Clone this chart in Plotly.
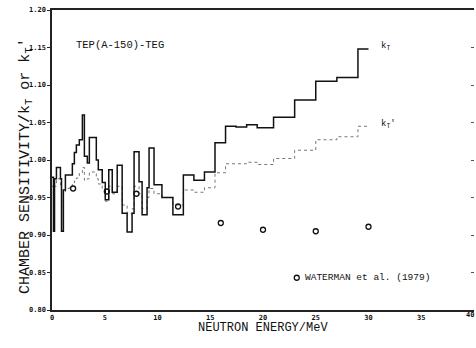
import plotly.graph_objects as go

# ---- data ----
edges = [0.0, 0.14, 0.24, 0.42, 0.80, 0.90, 1.08, 1.27, 1.65, 1.93, 2.12, 2.31, 2.59, 2.88,
         3.07, 3.35, 3.54, 4.20, 4.39, 4.76, 5.05, 5.38, 5.71, 6.18, 6.65, 7.12, 7.59, 7.78,
         8.25, 8.54, 9.01, 9.20, 9.67, 10.42, 11.46, 12.45, 13.45, 14.45, 15.45, 16.45,
         17.45, 18.45, 19.45, 21.0, 23.0, 25.0, 27.0, 29.0, 30.0]
k_T = [0.977, 0.905, 0.975, 0.990, 0.975, 0.905, 0.960, 0.980, 0.980, 0.995, 1.010, 1.020,
       1.027, 1.060, 1.005, 0.996, 1.030, 1.000, 0.987, 0.970, 0.947, 0.987, 0.957, 0.993,
       0.929, 0.904, 0.929, 1.011, 0.971, 0.927, 0.963, 1.016, 0.967, 0.950, 0.927, 0.980,
       0.973, 0.984, 1.023, 1.045, 1.044, 1.047, 1.043, 1.057, 1.080, 1.105, 1.110, 1.148]
k_Tp = [0.965, 0.930, 0.965, 0.975, 0.965, 0.935, 0.955, 0.962, 0.965, 0.968, 0.972, 0.976,
        0.983, 0.990, 0.973, 0.975, 0.984, 0.975, 0.968, 0.962, 0.945, 0.965, 0.955, 0.965,
        0.940, 0.928, 0.935, 0.965, 0.955, 0.935, 0.950, 0.962, 0.955, 0.950, 0.940, 0.960,
        0.957, 0.963, 0.983, 0.995, 0.995, 0.997, 0.994, 1.002, 1.013, 1.027, 1.031, 1.045]
wat_E = [2.0, 5.2, 8.0, 11.95, 16.0, 20.0, 25.0, 30.0]
wat_k = [0.962, 0.958, 0.955, 0.938, 0.916, 0.907, 0.905, 0.911]
legend_E = [23.2]
legend_k = [0.843]
y_ticks = [0.80, 0.85, 0.90, 0.95, 1.00, 1.05, 1.10, 1.15, 1.20]
x_ticks = [0, 5, 10, 15, 20, 25, 30, 35]

def steps(e, v):
    return list(e), list(v) + [v[-1]]

INK = "#111111"
fig = go.Figure()
xs, ys = steps(edges, k_Tp)
fig.add_trace(go.Scatter(x=xs, y=ys, mode="lines", line_shape="hv",
                         line=dict(color="#777", width=1, dash="dot"), showlegend=False))
xs, ys = steps(edges, k_T)
fig.add_trace(go.Scatter(x=xs, y=ys, mode="lines", line_shape="hv",
                         line=dict(color=INK, width=1.5), showlegend=False))
fig.add_trace(go.Scatter(x=wat_E, y=wat_k, mode="markers",
                         marker=dict(symbol="circle-open", size=5, color=INK, line=dict(width=1.3)),
                         showlegend=False))
fig.add_trace(go.Scatter(x=legend_E, y=legend_k, mode="markers",
                         marker=dict(symbol="circle-open", size=5, color=INK, line=dict(width=1.3)),
                         showlegend=False))
fig.add_trace(go.Scatter(x=[0], y=[0.8], yaxis="y2", mode="markers",
                         marker=dict(opacity=0), showlegend=False, hoverinfo="skip"))

tickfont = dict(family="DejaVu Sans Mono", size=7, color=INK, weight="bold")
fig.update_layout(
    width=476, height=348, margin=dict(l=52, r=2, t=10, b=38),
    paper_bgcolor="white", plot_bgcolor="white",
    xaxis=dict(range=[0, 40], tickvals=x_ticks, ticktext=[str(t) for t in x_ticks],
               showgrid=False, zeroline=False, showline=True, linecolor="#222", linewidth=1.5,
               mirror=True, ticks="", tickfont=tickfont),
    yaxis=dict(range=[0.80, 1.20], tickvals=y_ticks, ticktext=["%.2f" % t for t in y_ticks],
               showgrid=False, zeroline=False, showline=True, linecolor="#222", linewidth=1.5,
               ticks="outside", ticklen=3, tickcolor="#222", tickfont=tickfont),
    yaxis2=dict(range=[0.80, 1.20], overlaying="y", side="right", tickvals=y_ticks,
                showticklabels=False, showgrid=False, zeroline=False, showline=False,
                ticks="inside", ticklen=3, tickcolor="#555"),
    font=dict(family="Liberation Mono", color=INK),
)

def f(size, family="Liberation Mono", **kw):
    d = dict(family=family, size=size, color=INK)
    d.update(kw)
    return d

ann = [
    dict(x=6.4, y=1.153, text="TEP(A-150)-TEG", showarrow=False, font=f(10.5)),
    dict(x=31.0, y=1.152, text="k<sub>T</sub>", showarrow=False, xanchor="left", font=f(9)),
    dict(x=31.0, y=1.048, text="k<sub>T</sub>'", showarrow=False, xanchor="left", font=f(9)),
    dict(x=23.8, y=0.843, text="WATERMAN et al. (1979)", showarrow=False, xanchor="left",
         font=f(9.5)),
    dict(x=40, y=0, xref="x", yref="paper", yshift=-11, xanchor="right", xshift=2,
         text="40", showarrow=False, font=tickfont),
    dict(x=0.5, y=0, xref="paper", yref="paper", yshift=-27, text="NEUTRON ENERGY/MeV",
         showarrow=False, font=f(12)),
    dict(x=0, y=0.48, xref="paper", yref="paper", xshift=-37, textangle=-90,
         text="CHAMBER SENSITIVITY/k<sub>T</sub> or k<sub>T</sub>'",
         showarrow=False, font=f(15)),
]
fig.update_layout(annotations=ann)
fig.write_html("out.html")
